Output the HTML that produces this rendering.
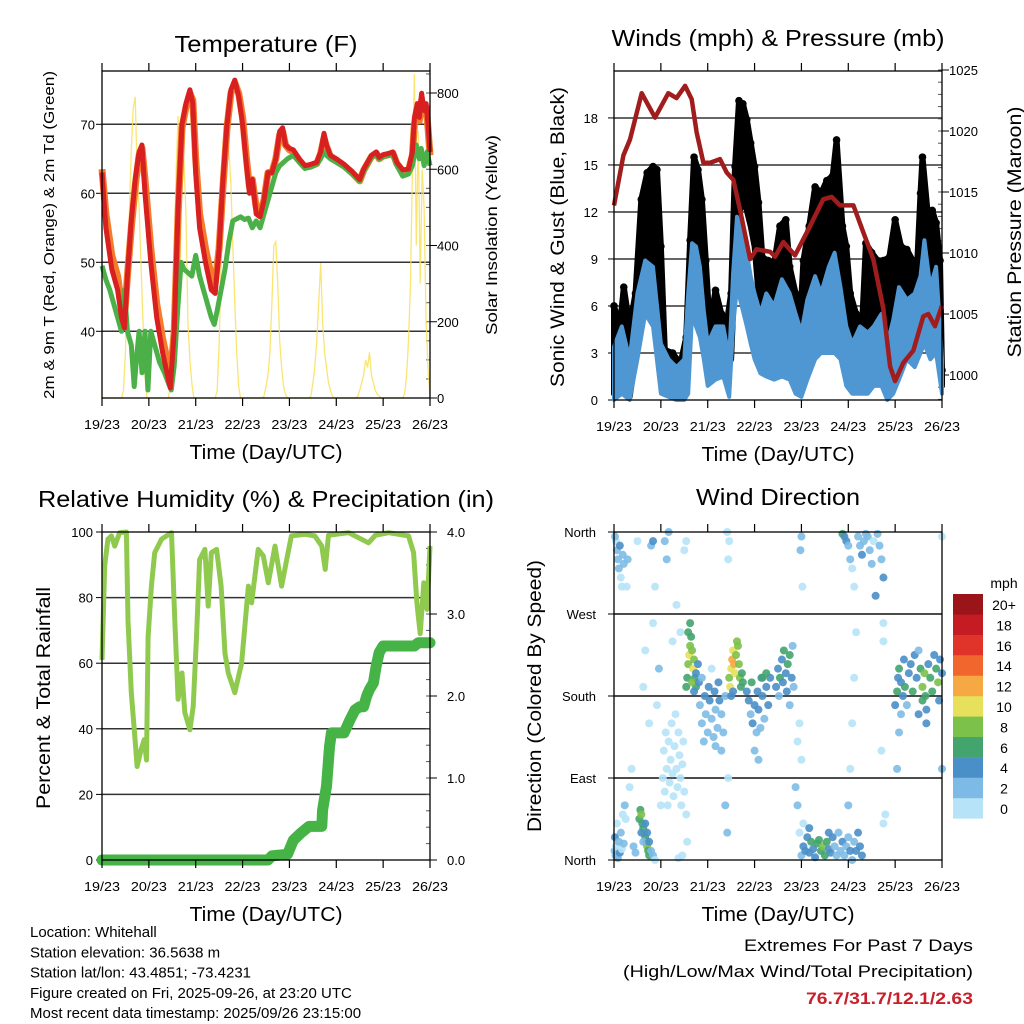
<!DOCTYPE html>
<html><head><meta charset="utf-8"><style>
html,body{margin:0;padding:0;background:#fff;}
svg{display:block;font-family:"Liberation Sans",Arial,sans-serif;}
</style></head><body>
<svg id="root" width="1024" height="1024" viewBox="0 0 1024 1024" xmlns="http://www.w3.org/2000/svg"></svg>
<script>
// ---------- Temperature data ----------
const tHours=[0,2,5,8,10,11.5,13,15,17,19,20.5,22,25,28,31,34,35,37,39,41,43,45,46.5,48,50,53,56,58,60,62,64,66,68,70,72,74,75.5,77,79,81,83,85,87,89,91,92.5,94,96,98,101,104,107,110,112,113.7,115,117,120,124,128,132,134,136,138,140.5,142,144,147,149,151,154,157,159,160,161.5,162.5,163.7,165,166,167,168];
const tRed=[63,55,49,46,42,40.5,48,56,62,66,67,60,50,42,37,33,31.8,40,58,70,73,75,73,63,55,50,46,45.5,52,62,70,75,76.4,74,70,64,60,62,57,56.6,59,63,63,65,69,69.5,67,66.5,66.3,65,64,64.2,64.5,66,68.7,67,65.5,65,64.2,63.2,62,63.5,64.5,65.5,66,65.2,65.6,65.8,66,64.5,63.4,63.5,66,71,73,71,74.5,72,73,70,66];
const tOrange=[63.5,57,51,48,44,42,48,55,61,65.5,66.5,62,52,44,39,35,33,40,57,69.5,72.5,74.5,73.5,65,57,52,48,47,52,61,69.5,74.5,76,74.5,71,65,61,62,58,57,59,63,63,65,68.5,69,67,66.3,66,64.8,63.8,64,64.3,65.8,68,66.8,65.3,64.8,64,63,61.8,63.3,64.3,65.3,65.8,65,65.4,65.6,65.8,64.3,63.2,63.3,65.5,70,72,70.5,73.5,71.5,72.5,69.5,65.5];
const gHours=[0,2,4,6,8,10,11.5,13,15,16.5,18,19,20.5,22,23.5,25,27,29.5,32,34,35.5,37,39,40.5,42,44,46,48,50,52,54,56,57.5,59,61,63,65,67,69,71,73,75,77,79,81,83,85,87,89,91,93,95,98,101,104,107,110,112,113.5,115,117,120,124,128,132,134,136,138,140.5,142,144,147,149,151,154,157,159,161,162.5,163.5,165,166.5,168];
const gTd=[49.5,47.5,46,44,42,40,46,40,38,32,37,40,34,40,31.5,40,38,35.5,34,32.5,31.5,35,44,50,49,48.5,48,51,48,46,44,42,41,43,46,49,53,56,56.3,56.6,56.2,56.4,55,56,55,57,59,61,63,64,64.5,65,65.5,64.5,63.6,63.8,64.2,65,66,65.5,65,64.5,63.8,62.8,61.8,63.2,64.2,65.2,65.6,65,65.3,65.5,65.6,64,62.5,62.8,64,67,65,66.5,64,66,64];
const solar=[0,0,0,0,0,0,0,0,0,0,0,
20,120,300,480,650,760,790,600,500,350,200,60,0,
0,0,0,0,0,0,0,0,0,0,0,
30,150,380,600,740,300,700,620,480,200,100,40,0,
0,0,0,0,0,0,0,0,0,0,0,
20,140,350,550,700,720,650,560,400,250,120,30,0,
0,0,0,0,0,0,0,0,0,0,0,
5,30,60,120,250,400,410,300,150,80,30,10,0,
0,0,0,0,0,0,0,0,0,0,0,
5,40,80,150,250,354,200,120,80,40,20,5,0,
0,0,0,0,0,0,0,0,0,0,0,
5,20,40,60,100,80,120,60,40,20,10,5,0,
0,0,0,0,0,0,0,0,0,0,0,
10,60,150,300,600,850,400,700,300,600,500,200,80,
0];
// ---------- Wind data ----------
const bHours=[0,4,8,12,16,20,24,28,32,36,38,40,42,44,46,48,52,56,59,61,63,66,68,70,72,75,78,82,86,90,93,96,99,103,106,110,113,116,119,122,126,130,133,137,140,143,146,150,154,157,159,162,165,168];
const bHi=[3.4,4.7,2.6,6.8,8.9,8.5,3.6,2.6,2.1,2.6,6.8,10.0,9.8,8.5,5.7,3.6,4.7,4.7,2.6,8.1,11.7,10.6,9.4,7.9,6.8,5.5,6.8,6.0,7.7,6.8,5.5,4.3,6.4,7.9,6.8,8.5,9.4,7.2,4.7,3.6,4.7,4.3,4.7,5.5,3.6,5.1,7.2,6.4,6.8,7.9,10.2,7.2,8.5,2.6];
const bLo=[0,0.4,0,2.6,5.5,4.7,0.4,0.2,0,0,0.4,5.5,4.7,4.0,2.6,0.9,1.3,1.5,0.2,4.7,7.2,5.7,4.7,3.6,2.6,1.7,1.5,1.3,1.5,1.3,0.4,0.2,1.3,2.6,3.0,3.0,3.0,2.6,0.9,0.4,0.4,0.4,0.9,0.9,0,0.4,1.3,2.6,2.1,3.0,3.6,2.6,3.0,0.4];
const gustH=[0,3,5,8,11,14,17,20,22,24,26,30,34,37,39,41,43,45,47,49,52,55,58,60,62,64,66,68,70,72,74,76,79,82,85,88,90,93,95,97,100,103,106,109,112,114,117,119,121,124,127,129,132,135,138,141,144,147,150,153,155,157,158,161,163,165,167,168];
const gustHi=[6.0,4.7,7.2,4.7,6.8,12.8,14.5,14.9,14.7,9.8,3.2,3.0,2.3,4.0,10.2,15.5,14.7,12.8,8.9,4.7,7.0,5.5,5.1,6.8,14.9,19.1,18.9,17.9,16.4,14.9,12.6,9.1,8.9,8.7,11.1,11.5,8.5,6.8,4.3,8.9,11.1,13.6,13.2,14.0,14.3,16.6,11.1,9.8,6.8,5.5,4.7,10.0,9.4,8.9,8.9,9.1,11.5,9.8,9.6,8.9,7.9,13.2,15.5,11.5,12.1,11.3,8.9,1.9];
const gustLo=[0.4,0.4,1.3,0.2,2.6,6.8,8.5,8.1,8.1,4.7,1.3,1.3,1.3,1.7,4.7,8.9,8.5,6.8,4.7,2.6,3.2,2.6,2.1,2.6,8.5,11.9,12.8,12.1,11.1,9.8,6.8,5.5,5.1,5.5,6.8,6.8,5.1,3.4,2.6,4.7,5.7,7.2,6.8,7.2,6.8,8.1,5.5,5.1,3.6,3.0,2.6,4.3,3.6,4.3,3.6,3.2,4.7,5.5,5.5,5.1,4.7,6.8,7.9,6.8,6.8,6.4,4.7,0.9];
const pHours=[0,4.8,8.2,14.2,21,27.8,32,36.4,39.8,42.3,45.8,49.2,54.3,57.7,61.1,64.5,69.7,73,80,82.5,86.7,92.7,100.4,107.2,111.5,115.8,122.6,127.7,132.8,138,141.4,144,148.2,153.3,158.4,161,164.4,168];
const pVals=[1013.9,1018,1019.3,1023.1,1021.1,1023.1,1022.7,1023.7,1022.6,1019.9,1017.4,1017.4,1017.7,1016.6,1016.0,1013.6,1009.5,1010.3,1010.1,1009.7,1010.9,1009.8,1012.2,1014.4,1014.6,1013.9,1013.9,1011.7,1009.5,1005.4,1000.7,999.5,1001,1002,1004.8,1005,1004,1005.7];
// ---------- RH / precip ----------
const rhHours=[0,1.4,3,4.8,6.5,9,12.5,13.3,15,16.8,18,20,21.6,22.8,23.6,25.3,27,30.5,35.6,37.3,39,41,42.4,45,46.7,48.4,50,52.7,54.4,56,58.7,61,63,64.7,68,71.5,75,76.6,80,82.6,85.2,88.6,92,94.6,97,104,109,112.6,114.3,116,126.3,136.5,140,146.8,157,159.6,161.3,163,164.8,166.5,168];
const rhVals=[61,89.6,97.8,98.8,95.7,99.8,100,73,51,37.7,28.5,33.6,36.7,30.5,68,83.5,93.7,97.8,99.8,73,49,57,45,39.7,46.8,68,91.6,94.7,77.4,93.7,94.7,83.5,63,57,51,60,83.5,78.4,94.7,92.7,84.5,95.7,83.5,91.6,98.8,99.3,98.8,95.7,88.6,99,99.8,96.7,99,99.8,98.8,93.7,78.4,69,84.5,76.4,95.7];
const prHours=[0,85,87,95,98,102,106,112.6,113,115,116.5,117.5,121,124,127,129.6,132,134,135.6,137,139,140.4,142,144,152,160,162,168];
const prVals=[0,0,0.05,0.07,0.24,0.33,0.41,0.41,0.61,0.9,1.38,1.55,1.55,1.55,1.71,1.83,1.87,1.87,2.0,2.08,2.16,2.36,2.53,2.61,2.61,2.61,2.65,2.65];
// ---------- Wind direction ----------
const wdHour=[0.3,0.5,0.8,1,1.5,2,2.5,3,3.5,4,4.5,5,1,1.5,2,2.5,3,3.5,4,4.5,5,0.5,5.5,6,6.5,7,8,9,10,11,12,
13,13.5,14,14.5,15,15.5,16,16.5,17,17.5,18,14,15,16,17,18,19,20,21,19,20,21,15,16,18,20,22,23,
24,25,25.5,26,26.5,27,27.5,28,28.5,29,29.5,30,30.5,31,31.5,32,32.5,33,33.5,34,34.5,35,35.5,36,37,37.5,36,37,26,27,28,30,32,34,35,33,
37,37.5,38,38.5,39,39.5,40,40.5,41,41.5,42,38,39,40,41,42,43,43.5,
44,45,46,46.5,47,48,48.5,49,50,51,51.5,52,53,53.5,54,55,56,57,45,50,55,52,
59,59.5,60,60.5,61,61.5,62,62.5,63,63.5,64,64.5,65,65.5,66,60,61,57,58,58.5,58,59,58.5,
68,69,70,70.5,71,72,73,73.5,74,75,75.5,76,77,78,79,80,72,74,76,78,
83,84,84.5,85,86,86.5,87,88,88.5,89,90,91,91.5,92,90,
93,94,95,95.5,96,96.5,95,96,94,97,
96,97,98,99,100,101,102,103,104,105,106,107,108,109,110,111,112,113,114,115,116,117,118,119,120,121,122,123,124,125,126,127,110,100,
117,118,119,120,121,122,123,124,123,122,121,120,125,126,127,128,129,130,131,132,133,134,135,136,137,138,138,138,137,138,139,
144,145,145.5,146,147,148,148.5,149,150,151,152,153,154,155,156,157,158,159,159.5,160,161,162,163,164,165,166,166.5,167,168,146,145,156,160,158,168,168,147];
const wdDeg=[10,25,5,15,40,2,20,8,30,12,50,18,350,340,330,320,345,310,300,335,325,355,60,45,300,330,80,100,15,8,350,
45,55,50,40,35,30,25,20,15,10,5,30,20,40,30,20,10,5,0,345,350,300,190,230,150,260,170,210,
60,90,120,75,140,100,60,130,85,110,150,95,70,125,160,100,80,140,115,90,60,105,130,75,50,20,340,350,350,330,360,240,280,250,5,2,
190,200,215,225,235,245,230,210,220,200,190,250,260,195,185,205,215,195,
170,150,130,180,160,140,190,175,155,135,185,165,145,195,175,160,140,180,200,210,120,125,
200,190,210,220,230,215,205,225,240,235,215,200,190,205,195,180,185,60,30,90,360,350,330,
185,175,160,195,150,170,140,185,165,145,200,180,155,190,170,200,120,110,200,205,
190,210,180,200,220,195,230,205,185,215,225,200,235,190,170,
80,60,30,340,355,300,150,110,130,40,
5,15,10,25,8,20,12,3,18,22,10,15,5,20,12,8,25,15,5,30,10,20,5,15,25,10,0,20,10,30,15,5,30,35,
358,355,350,345,330,320,300,250,200,150,100,60,355,345,335,350,358,355,340,325,350,290,358,345,330,310,260,240,120,40,50,
170,185,200,210,195,180,220,190,170,205,215,185,225,200,230,210,190,205,180,165,215,200,185,225,210,195,175,220,205,140,100,160,150,175,100,355,160];
const wdSpd=[3,4,2,1,1,2,3,5,2,1,1,3,1,3,2,3,4,1,1,2,3,3,2,1,1,2,1,1,2,3,1,
6,7,8,6,7,8,7,6,8,6,7,4,3,5,4,5,3,2,1,2,4,1,1,1,1,1,1,2,
1,1,1,0,1,0,1,1,0,1,1,0,1,0,1,1,0,1,0,1,1,0,1,1,0,1,1,1,3,3,2,1,1,1,0,0,
6,7,8,10,9,6,8,10,9,7,6,7,6,9,5,4,5,4,
3,3,3,4,3,2,4,5,3,3,4,3,2,5,4,3,2,3,3,1,3,2,
8,10,10,12,11,12,10,9,8,9,8,9,7,6,6,5,4,3,3,1,1,1,1,
5,4,3,6,4,5,3,5,4,3,5,4,3,5,4,4,3,3,6,6,
4,5,3,6,5,4,6,5,4,6,6,4,3,3,3,
3,2,1,2,2,1,1,1,1,1,
3,4,5,4,5,6,5,4,6,7,6,8,7,6,5,4,4,3,3,2,3,4,3,2,3,4,3,3,4,4,5,4,5,4,
6,4,5,3,2,1,1,1,1,1,1,2,3,2,4,3,3,2,3,2,1,5,2,3,3,4,1,1,1,1,1,
4,6,5,6,4,5,4,6,3,5,4,6,4,5,3,6,8,9,6,5,4,6,7,5,6,8,4,5,4,3,2,4,4,6,2,1,2];
const spdColors=['#b6e3f8','#7dbbe6','#4a8fc8','#44a46e','#7cc14a','#e6e05c','#f6a842','#f0662c','#e0342a','#c51b22','#9b1419'];
const spdLabels=['0','2','4','6','8','10','12','14','16','18','20+'];
const dayLabels=['19/23','20/23','21/23','22/23','23/23','24/23','25/23','26/23'];

const NS='http://www.w3.org/2000/svg';
const root=document.getElementById('root');
function el(tag,attrs,parent){const e=document.createElementNS(NS,tag);for(const k in attrs)e.setAttribute(k,attrs[k]);(parent||root).appendChild(e);return e;}
function txt(x,y,s,size,anchor,name,extra){
  const t=el('text',Object.assign({x:x,y:y,'font-size':size,'text-anchor':anchor||'start',fill:'#000'},extra||{}));
  t.textContent=s;
  
  
  return t;
}
function rtxt(x,y,s,size,name,len){
  const t=el('text',{x:0,y:0,'font-size':size,'text-anchor':'middle',fill:'#000',transform:'translate('+x+','+y+') rotate(-90)',textLength:len,lengthAdjust:'spacingAndGlyphs'});
  t.textContent=s;
  
  
  return t;
}
function panel(name){
  const g=el('g',{});
  
  
  return g;
}
function hx(p,h){return p.x0+h*(p.x1-p.x0)/168;}
function pathFrom(xs,ys){let d='';for(let i=0;i<xs.length;i++)d+=(i?'L':'M')+xs[i].toFixed(1)+' '+ys[i].toFixed(1);return d;}
function frame(p,g){
  const r=el('rect',{x:p.x0,y:p.y0,width:p.x1-p.x0,height:p.y1-p.y0,fill:'none',stroke:'#000','stroke-width':1.3},g);
  
  
  for(let d=0;d<=7;d++){
    const x=hx(p,d*24);
    el('line',{x1:x,x2:x,y1:p.y0,y2:p.y0-8,stroke:'#000','stroke-width':1.2},g);
    el('line',{x1:x,x2:x,y1:p.y1,y2:p.y1+8,stroke:'#000','stroke-width':1.2},g);
    txt(x,p.y1+31,dayLabels[d],13,'middle','x-tick-label',{textLength:36,lengthAdjust:'spacingAndGlyphs'});
  }
  txt((p.x0+p.x1)/2,p.y1+61,'Time (Day/UTC)',20,'middle','x-axis-title',{textLength:153,lengthAdjust:'spacingAndGlyphs'});
}
function hgrid(p,g,y){el('line',{x1:p.x0,x2:p.x1,y1:y,y2:y,stroke:'#333','stroke-width':1.5},g);}

// ================= Panel 1: Temperature =================
const P1={x0:102,x1:430,y0:71,y1:398};
const t2y=t=>124.3+(70-t)*6.9;
const s2y=s=>398-s*305/800;
const g1=panel('temperature-panel');
[40,50,60,70].forEach(v=>{hgrid(P1,g1,t2y(v));txt(95,t2y(v)+5,String(v),13,'end','temp-tick-label');el('line',{x1:P1.x0-6,x2:P1.x0,y1:t2y(v),y2:t2y(v),stroke:'#000'},g1);});
[0,200,400,600,800].forEach(v=>{txt(437,s2y(v)+5,String(v),13,'start','solar-tick-label');el('line',{x1:P1.x1,x2:P1.x1+7,y1:s2y(v),y2:s2y(v),stroke:'#000'},g1);});
for(let v=50;v<=850;v+=50){el('line',{x1:P1.x1-4,x2:P1.x1,y1:s2y(v),y2:s2y(v),stroke:'#555'},g1);}
const solarPath=el('path',{d:pathFrom(solar.map((v,i)=>hx(P1,i)),solar.map(s2y)),fill:'none',stroke:'#f9e05a','stroke-width':1.3,'stroke-opacity':0.85},g1);


const oPath=el('path',{d:pathFrom(tHours.map(h=>hx(P1,h)),tOrange.map(t2y)),fill:'none',stroke:'#f47b2b','stroke-width':7,'stroke-linejoin':'round'},g1);


const gPath=el('path',{d:pathFrom(gHours.map(h=>hx(P1,h)),gTd.map(t2y)),fill:'none',stroke:'#4cb048','stroke-width':5,'stroke-linejoin':'round'},g1);


const rPath=el('path',{d:pathFrom(tHours.map(h=>hx(P1,h)),tRed.map(t2y)),fill:'none',stroke:'#d7201f','stroke-width':5,'stroke-linejoin':'round'},g1);


frame(P1,g1);
txt(266,52,'Temperature (F)',23,'middle','temperature-title',{textLength:183,lengthAdjust:'spacingAndGlyphs'});
rtxt(54,235,'2m & 9m T (Red, Orange) & 2m Td (Green)',15,'temp-y-axis-title',328);
rtxt(497,235,'Solar Insolation (Yellow)',16,'solar-y-axis-title',200);

// ================= Panel 2: Winds =================
const P2={x0:614,x1:942,y0:71,y1:400};
const m2y=m=>400-m*15.67;
const p2y=p=>375+(1000-p)*12.2;
const g2=panel('winds-panel');
[3,6,9,12,15,18].forEach(v=>hgrid(P2,g2,m2y(v)));
[0,3,6,9,12,15,18].forEach(v=>{txt(598,m2y(v)+5,String(v),13,'end','wind-tick-label');el('line',{x1:P2.x0-6,x2:P2.x0,y1:m2y(v),y2:m2y(v),stroke:'#000'},g2);});
[1000,1005,1010,1015,1020,1025].forEach(v=>{txt(949,p2y(v)+5,String(v),13,'start','pressure-tick-label');el('line',{x1:P2.x1,x2:P2.x1+7,y1:p2y(v),y2:p2y(v),stroke:'#000'},g2);});
for(let v=998;v<=1025;v++){el('line',{x1:P2.x1-4,x2:P2.x1,y1:p2y(v),y2:p2y(v),stroke:'#555'},g2);}
const gustX=gustH.map(h=>hx(P2,h));
const gustBand=el('path',{d:pathFrom(gustX.concat(gustX.slice().reverse()),gustHi.map(m2y).concat(gustLo.map(m2y).reverse()))+'Z',fill:'#000',stroke:'#000','stroke-width':6,'stroke-linejoin':'round'},g2);


gustH.forEach((h,i)=>{
  const c=el('circle',{cx:hx(P2,h),cy:m2y(gustHi[i]),r:3.8,fill:'#000'},g2);
  
  
});
const bX=bHours.map(h=>hx(P2,h));
const blueBand=el('path',{d:pathFrom(bX.concat(bX.slice().reverse()),bHi.map(m2y).concat(bLo.map(m2y).reverse()))+'Z',fill:'#4f97d2',stroke:'#4f97d2','stroke-width':4,'stroke-linejoin':'round'},g2);


const pPath=el('path',{d:pathFrom(pHours.map(h=>hx(P2,h)),pVals.map(p2y)),fill:'none',stroke:'#a11d1d','stroke-width':4.5,'stroke-linejoin':'round'},g2);


frame(P2,g2);
txt(778,46,'Winds (mph) & Pressure (mb)',23,'middle','winds-title',{textLength:333,lengthAdjust:'spacingAndGlyphs'});
rtxt(564,237,'Sonic Wind & Gust (Blue, Black)',19,'wind-y-axis-title',300);
rtxt(1021,232,'Station Pressure (Maroon)',19,'pressure-y-axis-title',251);

// ================= Panel 3: RH & Precip =================
const P3={x0:102,x1:430,y0:532,y1:860};
const rh2y=v=>860-v*3.28;
const pr2y=v=>860-v*82;
const g3=panel('humidity-panel');
[20,40,60,80].forEach(v=>hgrid(P3,g3,rh2y(v)));
[0,20,40,60,80,100].forEach(v=>{txt(93,rh2y(v)+5,String(v),13,'end','rh-tick-label');el('line',{x1:P3.x0-6,x2:P3.x0,y1:rh2y(v),y2:rh2y(v),stroke:'#000'},g3);});
['0.0','1.0','2.0','3.0','4.0'].forEach((s,i)=>{txt(447,pr2y(i)+5,s,13,'start','precip-tick-label');el('line',{x1:P3.x1,x2:P3.x1+7,y1:pr2y(i),y2:pr2y(i),stroke:'#000'},g3);});
for(let v=0.2;v<4;v+=0.2){el('line',{x1:P3.x1-4,x2:P3.x1,y1:pr2y(v),y2:pr2y(v),stroke:'#555'},g3);}
const rhPath=el('path',{d:pathFrom(rhHours.map(h=>hx(P3,h)),rhVals.map(rh2y)),fill:'none',stroke:'#8fca4f','stroke-width':5,'stroke-linejoin':'round'},g3);


const prPath=el('path',{d:pathFrom(prHours.map(h=>hx(P3,h)),prVals.map(pr2y)),fill:'none',stroke:'#46b346','stroke-width':11,'stroke-linejoin':'round','stroke-linecap':'round'},g3);


frame(P3,g3);
txt(266,507,'Relative Humidity (%) & Precipitation (in)',23,'middle','humidity-title',{textLength:456,lengthAdjust:'spacingAndGlyphs'});
rtxt(50,698,'Percent & Total Rainfall',19,'rh-y-axis-title',222);

// ================= Panel 4: Wind Direction =================
const P4={x0:614,x1:942,y0:532,y1:860};
const d2y=d=>860-d*328/360;
const g4=panel('wind-direction-panel');
[90,180,270].forEach(v=>{el('line',{x1:P4.x0,x2:P4.x1,y1:d2y(v),y2:d2y(v),stroke:'#111','stroke-width':1.5},g4);});
['North','East','South','West','North'].forEach((s,i)=>{txt(596,d2y(i*90)+5,s,13,'end','direction-tick-label');el('line',{x1:P4.x0-6,x2:P4.x0,y1:d2y(i*90),y2:d2y(i*90),stroke:'#000'},g4);});
wdHour.forEach((h,i)=>{
  const bin=Math.min(10,Math.floor(wdSpd[i]/2));
  const c=el('circle',{cx:hx(P4,h),cy:d2y(wdDeg[i]),r:4,fill:spdColors[bin],'fill-opacity':0.9},g4);
  
  
});
frame(P4,g4);
txt(778,505,'Wind Direction',23,'middle','wind-direction-title',{textLength:164,lengthAdjust:'spacingAndGlyphs'});
rtxt(541,696,'Direction (Colored By Speed)',19,'direction-y-axis-title',272);
// legend
const lg=el('g',{});


txt(1004,588,'mph',14,'middle','legend-title');
for(let i=0;i<11;i++){
  const y=594+(10-i)*20.4;
  const r=el('rect',{x:953,y:y,width:30,height:20.6,fill:spdColors[i]},lg);
  
  
  txt(1004,y+16,spdLabels[i],14,'middle','legend-label');
}

// ================= Footer text =================
const info=['Location: Whitehall','Station elevation: 36.5638 m','Station lat/lon: 43.4851; -73.4231','Figure created on Fri, 2025-09-26, at 23:20 UTC','Most recent data timestamp: 2025/09/26 23:15:00'];
info.forEach((s,i)=>txt(30,937+i*20.3,s,15,'start','station-info-line'));
txt(973,951,'Extremes For Past 7 Days',17,'end','extremes-heading',{textLength:229,lengthAdjust:'spacingAndGlyphs'});
txt(973,977,'(High/Low/Max Wind/Total Precipitation)',17,'end','extremes-subheading',{textLength:350,lengthAdjust:'spacingAndGlyphs'});
txt(973,1004,'76.7/31.7/12.1/2.63',17,'end','extremes-values',{'font-weight':'bold',fill:'#c8202a',textLength:167,lengthAdjust:'spacingAndGlyphs'});
</script>
</body></html>
